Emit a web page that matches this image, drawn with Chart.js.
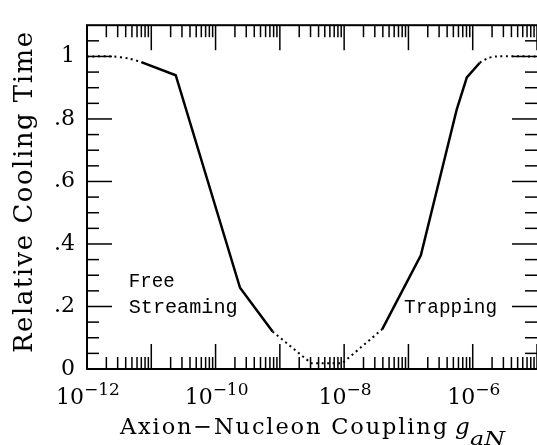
<!DOCTYPE html>
<html><head><meta charset="utf-8">
<script src="https://cdn.jsdelivr.net/npm/chart.js@4.4.1/dist/chart.umd.min.js"></script>
<style>html,body{margin:0;padding:0;background:#fff}#wrap{width:537px;height:445px;position:relative}</style>
</head><body><div id="wrap"><canvas id="c"></canvas></div>
<script>
// ---- Data ----
const lowTransitionG  = [1e-12, 2.5e-12, 4.5e-12, 7.0e-12];
const lowTransitionT  = [1.0, 1.0, 0.993, 0.982];
const freeStreamingG  = [7.0e-12, 2.4e-11, 2.4e-10, 7.7e-10];
const freeStreamingT  = [0.982, 0.940, 0.260, 0.120];
const minimumG        = [7.7e-10, 3.1e-9, 9.3e-9, 3.9e-8];
const minimumT        = [0.120, 0.018, 0.018, 0.127];
const trappingG       = [3.9e-8, 1.56e-7, 5.65e-7, 8.1e-7, 1.29e-6];
const trappingT       = [0.127, 0.364, 0.831, 0.933, 0.980];
const highTransitionG = [1.29e-6, 1.7e-6, 2.3e-6, 1e-5];
const highTransitionT = [0.980, 0.994, 1.0, 1.0];

// ---- Axis ticks / labels ----
const yMajorTicks = [0, 0.2, 0.4, 0.6, 0.8, 1.0];
const yTickLabels = ['0', '.2', '.4', '.6', '.8', '1'];
const yMinorTicks = [0.05, 0.1, 0.15, 0.25, 0.3, 0.35, 0.45, 0.5, 0.55, 0.65, 0.7, 0.75, 0.85, 0.9, 0.95, 1.05];
const xDecades = [1e-12, 1e-11, 1e-10, 1e-9, 1e-8, 1e-7, 1e-6, 1e-5];
const xMinorMultipliers = [2, 3, 4, 5, 6, 7, 8, 9];
const xLabelValues = [1e-12, 1e-10, 1e-8, 1e-6];
const xLabelExponents = ['\u221212', '\u221210', '\u22128', '\u22126'];

const toPts = (g, t) => g.map((v, i) => ({x: v, y: t[i]}));

const SERIF = '"DejaVu Serif", "Liberation Serif", serif';
const MONO = '"Liberation Mono", "DejaVu Sans Mono", monospace';

function fitText(ctx, text, x, y, font, targetW) {
  ctx.font = font;
  const w = ctx.measureText(text).width;
  ctx.save();
  ctx.translate(x, y);
  ctx.scale(targetW / w, 1);
  ctx.textAlign = 'left';
  ctx.textBaseline = 'alphabetic';
  ctx.fillText(text, 0, 0);
  ctx.restore();
}

function spacedText(ctx, text, x, y, font, targetW) {
  ctx.font = font;
  if (!('letterSpacing' in ctx)) { fitText(ctx, text, x, y, font, targetW); return; }
  const w = ctx.measureText(text).width;
  const sp = (targetW - w) / (text.length - 1);
  ctx.save();
  ctx.letterSpacing = sp.toFixed(2) + 'px';
  ctx.textAlign = 'left';
  ctx.textBaseline = 'alphabetic';
  ctx.fillText(text, x, y);
  ctx.restore();
}

const decor = {
  id: 'decor',
  afterDatasetsDraw(chart) {
    const {ctx, chartArea: a, scales: {x, y}} = chart;
    ctx.save();
    ctx.strokeStyle = '#000';
    ctx.fillStyle = '#000';
    // frame
    ctx.lineWidth = 2;
    ctx.strokeRect(a.left, a.top, a.right - a.left + 3, a.bottom - a.top);
    // ticks
    ctx.lineWidth = 1.5;
    const seg = (x1, y1, x2, y2) => { ctx.beginPath(); ctx.moveTo(x1, y1); ctx.lineTo(x2, y2); ctx.stroke(); };
    const MAJ = 25, MIN = 12;
    xDecades.forEach(d => {
      const px = x.getPixelForValue(d);
      seg(px, a.bottom, px, a.bottom - MAJ);
      seg(px, a.top, px, a.top + MAJ);
      xMinorMultipliers.forEach(m => {
        const v = m * d;
        if (v >= x.max) return;
        const q = x.getPixelForValue(v);
        seg(q, a.bottom, q, a.bottom - MIN);
        seg(q, a.top, q, a.top + MIN);
      });
    });
    yMajorTicks.forEach(v => {
      const py = y.getPixelForValue(v);
      seg(a.left, py, a.left + MAJ, py);
      seg(a.right, py, a.right - MAJ, py);
    });
    yMinorTicks.forEach(v => {
      const py = y.getPixelForValue(v);
      seg(a.left, py, a.left + MIN, py);
      seg(a.right, py, a.right - MIN, py);
    });

    // x tick labels 10^n
    ctx.textBaseline = 'alphabetic';
    ctx.textAlign = 'left';
    xLabelValues.forEach((v, i) => {
      const px = x.getPixelForValue(v) + 1;
      ctx.font = '22px ' + SERIF;
      const wb = ctx.measureText('10').width;
      ctx.font = '17px ' + SERIF;
      const we = ctx.measureText(xLabelExponents[i]).width;
      const left = px - (wb + we) / 2;
      ctx.font = '22px ' + SERIF;
      ctx.fillText('10', left, 403.5);
      ctx.font = '17px ' + SERIF;
      ctx.fillText(xLabelExponents[i], left + wb, 395);
    });

    // x axis title
    spacedText(ctx, 'Axion\u2212Nucleon Coupling', 120, 433.5, '22.5px ' + SERIF, 327);
    ctx.font = 'italic 23px ' + SERIF;
    ctx.fillText('g', 455, 433.5);
    fitText(ctx, 'aN', 470, 445, 'italic 19px ' + SERIF, 35);

    // y axis title
    ctx.save();
    ctx.translate(32, 192.5);
    ctx.rotate(-Math.PI / 2);
    spacedText(ctx, 'Relative Cooling Time', -321 / 2, 0, '26px ' + SERIF, 321);
    ctx.restore();

    // annotations
    fitText(ctx, 'Free', x.getPixelForValue(4.45e-12), y.getPixelForValue(0.262), '20px ' + MONO, 46);
    fitText(ctx, 'Streaming', x.getPixelForValue(4.45e-12), y.getPixelForValue(0.178), '20px ' + MONO, 109);
    fitText(ctx, 'Trapping', x.getPixelForValue(8.57e-8), y.getPixelForValue(0.178), '20px ' + MONO, 93);
    ctx.restore();
  }
};

const solid = {borderColor: '#000', borderWidth: 2.5, pointRadius: 0, tension: 0, fill: false};
const dotted = {borderColor: '#000', borderWidth: 2, borderDash: [2, 3.5], pointRadius: 0, tension: 0.3, fill: false};

new Chart(document.getElementById('c'), {
  type: 'line',
  data: {
    datasets: [
      Object.assign({label: 'low transition', data: toPts(lowTransitionG, lowTransitionT)}, dotted),
      Object.assign({label: 'free streaming', data: toPts(freeStreamingG, freeStreamingT)}, solid),
      Object.assign({label: 'minimum', data: toPts(minimumG, minimumT)}, dotted, {tension: 0}),
      Object.assign({label: 'trapping', data: toPts(trappingG, trappingT)}, solid),
      Object.assign({label: 'high transition', data: toPts(highTransitionG, highTransitionT)}, dotted)
    ]
  },
  options: {
    responsive: true,
    maintainAspectRatio: false,
    animation: false,
    layout: {padding: {top: 8, right: 0, left: 0, bottom: 0}},
    plugins: {legend: {display: false}, tooltip: {enabled: false}, title: {display: false}},
    scales: {
      x: {
        type: 'logarithmic', min: 1e-12, max: 1e-5, position: 'bottom',
        grid: {display: false, drawTicks: false}, border: {display: false},
        ticks: {display: false},
        afterFit: s => { s.height = 76; }
      },
      y: {
        type: 'linear', min: 0, max: 1.1, position: 'left',
        grid: {display: false, drawTicks: false}, border: {display: false},
        afterBuildTicks: s => { s.ticks = yMajorTicks.map(v => ({value: v})); },
        ticks: {
          color: '#000', padding: 12, autoSkip: false,
          font: {family: SERIF, size: 22},
          callback: (v, i) => yTickLabels[i]
        },
        afterFit: s => { s.width = 87; }
      }
    }
  },
  plugins: [decor]
});
</script>
</body></html>
